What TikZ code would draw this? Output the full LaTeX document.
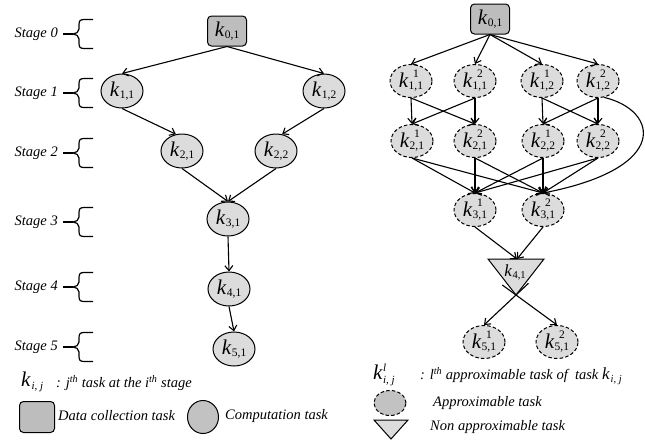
\documentclass[tikz,border=0pt]{standalone}
\usepackage{fontspec}
\setmainfont{Liberation Serif}
\usetikzlibrary{arrows.meta,shapes.geometric,calc}

\definecolor{boxgray}{HTML}{BDBDBD}
\definecolor{nodegray}{HTML}{DCDCDC}
\definecolor{leggray}{HTML}{C2C2C2}

% fonts for task labels
\newcommand\kfont{\fontsize{21}{21}\selectfont\itshape}
\newcommand\kfontsm{\fontsize{17}{17}\selectfont\itshape}
\newcommand\sfont{\fontsize{11.5}{11.5}\selectfont\upshape}
\newcommand\stagefont{\fontsize{14.5}{16}\selectfont\itshape}
% k with a plain subscript
\newcommand\kk[1]{{\kfont k}\kern0.8pt\raisebox{-2.5pt}{\sfont #1}}
% smaller k used inside the triangle
\newcommand\kks[1]{{\kfontsm k}\kern0.8pt\raisebox{-2pt}{\fontsize{10.5}{10.5}\selectfont #1}}
% k with a superscript stacked over a subscript
\newsavebox\ksubbox
\newcommand\kap[2]{{\kfont k}\kern0.5pt\sbox\ksubbox{\sfont #2}%
  \raisebox{-2pt}{\usebox\ksubbox}\kern-\wd\ksubbox
  \makebox[\wd\ksubbox][c]{\raisebox{10pt}{\sfont #1}}}
% curly brace next to each stage label
\newcommand\stagebrace[1]{%
  \draw[line width=1.8pt] (63,#1) -- (73,#1);
  \draw[line width=1.2pt] (93,#1-14.5) -- (84,#1-14.5)
    .. controls (80,#1-14.5) and (79,#1-13) .. (79,#1-9) -- (79,#1-5)
    .. controls (79,#1-2) and (76,#1) .. (73,#1)
    .. controls (76,#1) and (79,#1+2) .. (79,#1+5) -- (79,#1+9)
    .. controls (79,#1+13) and (80,#1+14.5) .. (84,#1+14.5) -- (93,#1+14.5);}

\begin{document}
\begin{tikzpicture}[x=1pt,y=-1pt,
  collect/.style={draw, rounded corners=4pt, fill=boxgray, minimum width=39pt,
    minimum height=30pt, inner sep=0pt, line width=1pt},
  comp/.style={draw, ellipse, fill=nodegray, minimum width=42pt,
    minimum height=34pt, inner sep=0pt, line width=1pt},
  approx/.style={comp, minimum height=33pt, dash pattern=on 3.5pt off 2.2pt},
  flow/.style={-{Straight Barb[length=5pt,width=8pt]}, line width=1.1pt},
  stagelabel/.style={anchor=east, font=\stagefont, inner sep=1pt},
  legtext/.style={anchor=west, font=\stagefont, inner sep=0pt}]
\useasboundingbox (0,0) rectangle (645,440);

% ---------------- stages ----------------
\foreach \s/\y in {0/34,1/93,2/153,3/222,4/287,5/347}{
  \node[stagelabel] (stage\s) at (59,\y) {Stage \s};
  \stagebrace{\y}
}

% ---------------- left graph ----------------
\node[collect] (L01) at (227,31) {\kk{0,1}};
\node[comp] (L11) at (122,91) {\kk{1,1}};
\node[comp] (L12) at (324,91) {\kk{1,2}};
\node[comp] (L21) at (182,151) {\kk{2,1}};
\node[comp] (L22) at (276,151) {\kk{2,2}};
\node[comp] (L31) at (228,219) {\kk{3,1}};
\node[comp] (L41) at (229,289) {\kk{4,1}};
\node[comp] (L51) at (234,349) {\kk{5,1}};

\draw[flow] (L01.south) -- (L11.north);
\draw[flow] (L01.south) -- (L12.north);
\draw[flow] (L11.south) -- (L21.110);
\draw[flow] (L12.south) -- (L22.70);
\draw[flow] (L21.south) -- (L31.north);
\draw[flow] (L22.south) -- (L31.north);
\draw[flow] (L31.south) -- (L41.north);
\draw[flow] (L41.south) -- (L51.north);

% ---------------- right graph ----------------
\node[collect] (R01) at (490,19) {\kk{0,1}};
\node[approx] (a11) at (411,81) {\kap{1}{1,1}};
\node[approx] (b11) at (475,81) {\kap{2}{1,1}};
\node[approx] (a12) at (542,81) {\kap{1}{1,2}};
\node[approx] (b12) at (598,81) {\kap{2}{1,2}};
\node[approx] (a21) at (412,141) {\kap{1}{2,1}};
\node[approx] (b21) at (475,141) {\kap{2}{2,1}};
\node[approx] (a22) at (543,141) {\kap{1}{2,2}};
\node[approx] (b22) at (598,141) {\kap{2}{2,2}};
\node[approx] (a31) at (475,210) {\kap{1}{3,1}};
\node[approx] (b31) at (543,210) {\kap{2}{3,1}};
\node[approx] (a51) at (484,342) {\kap{1}{5,1}};
\node[approx] (b51) at (557,342) {\kap{2}{5,1}};

% non approximable task (downward triangle)
\coordinate (triL) at (488,259);
\coordinate (triR) at (544,259);
\coordinate (triA) at (516,295);
\coordinate (triT) at (517,259);
\draw[fill=nodegray, line width=1pt] (triL) -- (triR) -- (triA) -- cycle;
\node[inner sep=0pt] (K41) at (515,272) {\kks{4,1}};

\foreach \t in {a11,b11,a12,b12}
  \draw[flow] (R01.south) -- (\t.north);
\foreach \s/\t in {a11/a21,a11/b21,b11/a21,b11/b21,a12/a22,a12/b22,b12/a22,b12/b22}
  \draw[flow] (\s.south) -- (\t.north);
\foreach \s in {a21,b21,a22,b22}{
  \draw[flow] (\s.south) -- (a31.north);
  \draw[flow] (\s.south) -- (b31.north);
}
\draw[flow] (b12.290) .. controls (658,110) and (672,168) .. (b31.north);
\draw[flow] (a31.south) -- (triT);
\draw[flow] (b31.south) -- (triT);
\draw[flow] ($(triA)!-17pt!(a51.north)$) -- (a51.north);
\draw[flow] ($(triA)!-17pt!(b51.north)$) -- (b51.north);

% ---------------- legends ----------------
\node[anchor=west, inner sep=0pt] (legk) at (21,382)
  {{\kfont k}\kern1pt\raisebox{-3pt}{\fontsize{11}{11}\selectfont\itshape i, j}};
\node[legtext] (legkt) at (56,383)
  {: j\textsuperscript{th} task at the i\textsuperscript{th} stage};
\node[collect, minimum width=35pt, minimum height=31pt] (legbox) at (37,417) {};
\node[legtext] (legboxt) at (58,416) {Data collection task};
\node[draw, ellipse, fill=leggray, minimum width=31pt, minimum height=33pt,
  inner sep=0pt, line width=1pt] (legcomp) at (203,417) {};
\node[legtext] (legcompt) at (225,416) {Computation task};

\node[anchor=west, inner sep=0pt] (legkl) at (373,375)
  {{\kfont k}\kern0.5pt\sbox\ksubbox{\fontsize{11}{11}\selectfont\itshape i, j}%
   \raisebox{-4pt}{\usebox\ksubbox}\kern-\wd\ksubbox
   \makebox[\wd\ksubbox][l]{\raisebox{8pt}{\fontsize{11}{11}\selectfont\itshape l}}};
\node[legtext] (legklt) at (420,376)
  {: l\textsuperscript{th} approximable task of\ \ task
   {\fontsize{17}{17}\selectfont k}\kern1pt\raisebox{-3pt}{\fontsize{10.5}{10.5}\selectfont i, j}};
\node[draw, ellipse, fill=leggray, minimum width=32pt, minimum height=25pt,
  inner sep=0pt, line width=1pt, dash pattern=on 3.5pt off 2.2pt] (legapp) at (390,403) {};
\node[legtext] (legappt) at (433,403) {Approximable task};
\coordinate (ltL) at (374,420);
\coordinate (ltR) at (408,420);
\coordinate (ltA) at (391,439);
\draw[fill=nodegray, line width=1pt] (ltL) -- (ltR) -- (ltA) -- cycle;
\node[legtext] (legtrit) at (430,427) {Non approximable task};
\end{tikzpicture}
\end{document}
